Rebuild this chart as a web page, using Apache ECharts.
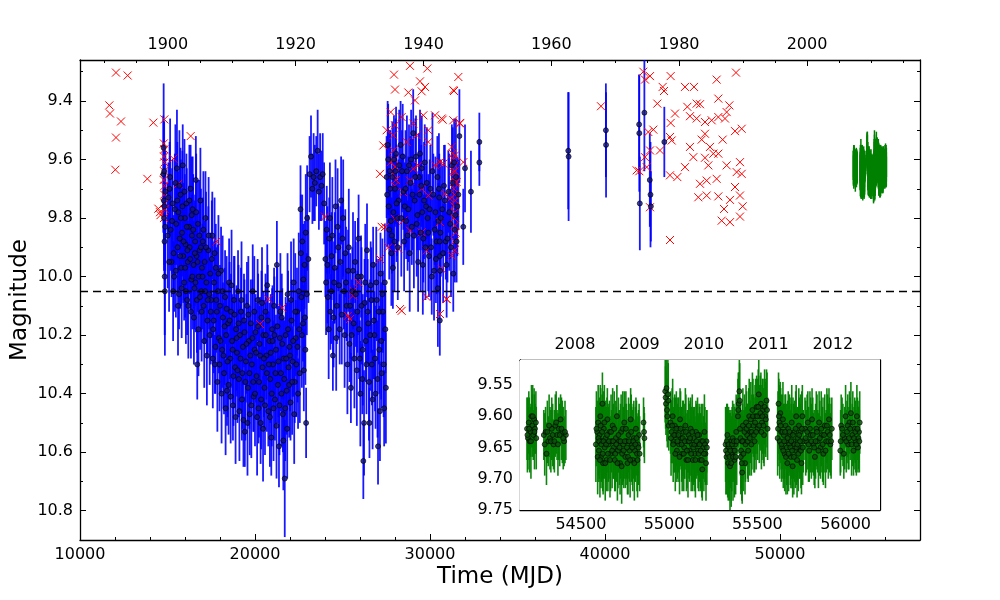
<!DOCTYPE html>
<html>
<head>
<meta charset="utf-8">
<script src="https://cdn.jsdelivr.net/npm/echarts@6.0.0/dist/echarts.min.js"></script>
<style>
html,body{margin:0;padding:0;background:#fff;}
#chart{width:1000px;height:600px;}
</style>
</head>
<body>
<div id="chart"></div>
<script>
// photographic light curve: [MJD, magnitude, error]
var blueObs = [
	[14760,9.65,0.20],[14780,9.56,0.22],[14790,9.74,0.15],[14800,9.80,0.18],[14810,9.64,0.17],[14820,9.76,0.20],[14830,9.88,0.16],[14840,10.00,0.20],[14850,10.05,0.22],[14870,9.83,0.15],[14880,9.71,0.14],
	[15050,9.73,0.12],[15120,9.70,0.16],[15180,9.84,0.14],[15230,9.95,0.12],[15290,9.75,0.15],[15350,9.92,0.13],[15380,10.00,0.12],
	[15450,9.68,0.20],[15500,9.82,0.14],[15540,9.63,0.20],[15580,9.90,0.15],[15620,9.78,0.14],[15660,10.06,0.12],[15700,9.87,0.17],[15740,9.72,0.16],[15780,9.97,0.13],
	[15830,9.85,0.15],[15870,9.62,0.14],[15900,9.93,0.16],[15950,10.02,0.13],[15990,9.80,0.15],[16030,9.89,0.14],[16080,9.75,0.17],[16120,10.08,0.12],[16160,9.95,0.14],
	[16230,9.83,0.14],[16270,9.90,0.16],[16320,9.70,0.15],[16360,10.01,0.12],[16400,9.86,0.14],[16440,9.77,0.18],[16490,9.96,0.15],[16540,10.04,0.14],[16580,9.88,0.16],
	[16620,9.67,0.15],[16660,9.93,0.12],[16700,10.30,0.12],[16740,9.82,0.15],[16790,10.00,0.13],[16840,9.91,0.16],[16880,9.74,0.18],[16930,10.05,0.14],[16970,9.97,0.12],
	[17020,9.88,0.15],[17070,10.10,0.13],[17120,9.95,0.14],[17170,9.80,0.16],[17220,10.02,0.12],[17280,10.15,0.13],[17330,9.91,0.15],[17380,10.06,0.12],[17440,9.99,0.14],
	[17500,10.08,0.13],[17560,9.86,0.15],[17610,10.18,0.12],[17660,10.02,0.14],[17710,10.30,0.10],[17760,9.97,0.15],[17820,10.12,0.13],[17880,10.05,0.16],[17940,10.21,0.12],
	[18000,10.10,0.14],[18060,9.98,0.15],[18120,10.25,0.13],[18170,10.14,0.12],[18230,10.33,0.14],[18290,10.07,0.16],[18350,10.20,0.13],[18400,10.39,0.12],[18460,10.16,0.14],
	[18520,10.02,0.15],[18580,10.28,0.14],[18630,10.12,0.13],[18690,10.22,0.16],[18740,10.44,0.12],[18800,10.08,0.15],[18860,10.31,0.14],[18920,10.18,0.12],[18970,10.26,0.15],
	[19030,10.05,0.14],[19080,10.35,0.13],[19140,10.20,0.12],[19200,10.12,0.15],[19250,10.42,0.14],[19310,10.24,0.13],[19370,10.15,0.16],[19420,10.53,0.12],[19480,10.29,0.14],
	[19540,10.10,0.15],[19600,10.38,0.13],[19650,10.22,0.12],[19700,10.47,0.14],[19760,10.16,0.15],[19820,10.30,0.13],[19870,10.05,0.16],[19930,10.41,0.12],[19980,10.25,0.14],
	[20030,10.19,0.13],[20090,10.34,0.15],[20150,10.08,0.14],[20200,10.45,0.12],[20260,10.23,0.13],[20320,10.50,0.14],[20370,10.14,0.16],[20430,10.31,0.13],[20480,10.20,0.15],
	[20540,10.38,0.14],[20600,10.12,0.13],[20650,10.27,0.15],[20700,10.03,0.14],[20760,10.46,0.12],[20820,10.22,0.13],[20870,10.35,0.15],[20930,10.55,0.13],[20980,10.18,0.14],
	[21030,10.30,0.15],[21090,10.10,0.13],[21140,10.42,0.14],[21200,10.25,0.12],[21250,9.96,0.15],[21310,10.37,0.13],[21370,10.58,0.14],[21420,10.21,0.16],[21480,10.33,0.13],
	[21530,10.14,0.15],[21590,10.47,0.13],[21640,10.28,0.14],[21700,10.69,0.20],[21750,10.20,0.13],[21810,10.39,0.15],[21860,10.06,0.14],[21920,10.31,0.13],[21970,10.24,0.15],
	[22030,10.43,0.13],[22090,10.15,0.14],[22150,10.29,0.12],[22210,10.02,0.15],[22270,10.36,0.14],[22330,10.21,0.13],[22400,10.12,0.15],[22460,10.40,0.12],[22530,10.18,0.14],
	[22600,9.77,0.15],[22650,10.07,0.14],[22700,9.88,0.16],[22740,10.16,0.13],[22790,10.32,0.14],[22830,9.96,0.15],[22880,10.25,0.12],[22920,10.50,0.12],[22960,10.06,0.14],
	[23050,9.94,0.15],[23120,9.65,0.13],[23200,9.59,0.14],[23280,9.70,0.12],[23350,9.66,0.15],[23420,9.68,0.13],[23500,9.64,0.12],[23580,9.57,0.14],[23650,9.71,0.13],[23720,9.66,0.15],[23800,9.69,0.12],[23870,9.65,0.14],
	[23950,9.75,0.14],[24020,9.94,0.13],[24100,9.84,0.15],[24170,10.07,0.12],[24240,9.87,0.14],[24310,10.12,0.13],[24380,9.93,0.15],[24450,10.27,0.12],[24520,10.02,0.14],[24600,9.76,0.16],[24680,10.10,0.13],[24760,9.90,0.15],[24840,10.18,0.12],
	[24920,9.74,0.15],[25000,9.87,0.14],[25080,10.05,0.13],[25160,9.92,0.15],[25240,10.10,0.12],[25320,9.98,0.14],[25400,10.23,0.13],[25480,10.38,0.12],[25560,10.05,0.15],[25640,10.16,0.13],[25720,9.95,0.14],
	[25850,10.12,0.14],[25920,9.87,0.15],[25990,10.28,0.13],[26060,10.00,0.14],[26130,10.35,0.12],[26190,10.63,0.13],[26260,10.09,0.15],[26330,10.22,0.14],[26400,9.91,0.16],[26470,10.16,0.13],[26540,10.50,0.12],[26610,10.03,0.15],
	[26680,10.30,0.14],[26750,9.96,0.13],[26820,10.20,0.15],[26890,10.40,0.12],[26960,10.08,0.14],[27030,10.58,0.13],[27100,10.25,0.15],[27170,9.99,0.14],[27240,10.33,0.12],[27310,10.12,0.14],[27380,10.45,0.13],[27450,10.18,0.15],
	[27520,9.66,0.14],[27580,9.55,0.15],[27640,9.76,0.13],[27700,9.64,0.14],[27760,9.81,0.12],[27820,9.86,0.13],[27880,9.97,0.14],[27940,9.60,0.15],[28000,9.70,0.13],[28060,9.58,0.16],[28120,9.80,0.13],[28200,9.74,0.14],
	[28320,9.55,0.15],[28400,9.64,0.14],[28480,9.71,0.13],[28560,9.76,0.15],[28640,9.81,0.13],[28720,9.86,0.12],[28800,9.62,0.14],[28880,9.68,0.16],[28960,9.83,0.13],[29040,9.51,0.15],[29120,9.74,0.13],[29200,9.59,0.14],[29280,9.79,0.12],[29360,9.66,0.15],
	[29430,9.58,0.15],[29500,9.69,0.14],[29560,9.78,0.13],[29620,9.87,0.15],[29700,9.61,0.13],[29780,9.76,0.14],[29860,9.80,0.12],[29940,9.93,0.14],[30020,9.70,0.15],[30100,10.00,0.13],[30190,9.72,0.14],[30270,9.84,0.12],
	[30340,9.94,0.15],[30420,9.66,0.14],[30480,9.81,0.13],[30530,9.73,0.15],[30560,10.15,0.12],[30570,9.93,0.13],[30580,9.98,0.14],[30590,9.85,0.12],
	[30700,9.77,0.15],[30800,9.69,0.14],[30900,9.88,0.13],[31000,9.87,0.15],[31050,9.71,0.14],[31150,9.82,0.12],[31250,9.62,0.14],[31330,9.99,0.13],[31380,9.61,0.15],[31450,9.79,0.13],[31520,9.88,0.14],[31620,9.72,0.12],
	[31680,9.52,0.16],[31900,9.83,0.13],[32000,9.63,0.15],[32340,9.71,0.14],[32820,9.54,0.10],[32820,9.61,0.08],
	[37900,9.57,0.20],[37920,9.59,0.22],[40050,9.50,0.16],[40060,9.55,0.18],[41950,9.48,0.17],[41960,9.51,0.20],[41990,9.75,0.16],
	[42250,9.44,0.20],[42560,9.67,0.16],[42600,9.72,0.18],[42620,9.76,0.12],[43390,9.54,0.12]
];

// further plates in the crowded years: [MJD, magnitude, error]
var blueObsB = [
	[15010,9.86,0.18],[15090,9.95,0.17],[15150,9.66,0.20],[15260,9.81,0.18],[15320,10.05,0.17],[15420,9.77,0.19],[15480,9.98,0.16],[15560,9.74,0.20],[15600,10.10,0.17],[15680,9.69,0.19],[15720,9.93,0.18],[15760,9.80,0.20],[15810,10.04,0.17],[15850,9.76,0.19],[15920,9.88,0.20],[15970,9.71,0.18],
	[16010,9.97,0.17],[16050,10.05,0.18],[16100,9.83,0.20],[16140,9.91,0.16],[16190,10.10,0.18],[16250,9.74,0.19],[16300,9.94,0.17],[16340,10.12,0.16],[16380,9.79,0.20],[16420,10.00,0.18],[16470,9.84,0.19],[16510,10.14,0.16],[16560,9.92,0.18],[16600,10.02,0.17],[16640,9.78,0.20],[16680,10.08,0.18],[16720,9.95,0.17],[16770,10.18,0.16],[16820,9.86,0.19],[16860,10.07,0.18],[16910,9.90,0.20],[16950,10.12,0.17],
	[17000,10.00,0.18],[17050,9.84,0.20],[17100,10.22,0.16],[17150,10.05,0.18],[17200,9.90,0.19],[17250,10.27,0.17],[17300,10.08,0.18],[17350,9.86,0.20],[17410,10.20,0.17],[17470,10.12,0.18],[17530,9.94,0.20],[17590,10.28,0.17],[17640,10.15,0.18],[17690,9.92,0.19],[17740,10.24,0.16],[17790,10.08,0.18],[17850,10.36,0.17],[17910,9.99,0.20],[17970,10.30,0.16],
	[18030,10.22,0.18],[18090,10.40,0.17],[18150,10.05,0.19],[18200,10.27,0.18],[18260,10.17,0.20],[18320,10.45,0.16],[18380,10.11,0.18],[18430,10.29,0.19],[18490,10.37,0.17],[18550,10.15,0.20],[18610,10.41,0.16],[18660,10.03,0.19],[18720,10.25,0.18],[18770,10.34,0.17],[18830,10.13,0.20],[18890,10.48,0.16],[18950,10.21,0.18],
	[19000,10.32,0.18],[19060,10.16,0.20],[19110,10.46,0.17],[19170,10.28,0.18],[19230,10.08,0.20],[19280,10.33,0.19],[19340,10.49,0.16],[19400,10.19,0.18],[19450,10.36,0.20],[19510,10.23,0.17],[19570,10.50,0.18],[19620,10.13,0.20],[19680,10.33,0.19],[19730,10.27,0.17],[19790,10.44,0.18],[19850,10.21,0.20],[19900,10.36,0.17],[19960,10.12,0.19],
	[20000,10.40,0.18],[20060,10.26,0.17],[20120,10.48,0.20],[20180,10.17,0.18],[20230,10.36,0.19],[20290,10.27,0.20],[20350,10.42,0.17],[20400,10.09,0.19],[20460,10.52,0.18],[20510,10.28,0.20],[20570,10.44,0.17],[20620,10.20,0.18],[20680,10.33,0.20],[20730,10.15,0.19],[20790,10.30,0.18],[20850,10.48,0.17],[20900,10.26,0.20],[20960,10.40,0.18],
	[21000,10.22,0.19],[21060,10.45,0.18],[21110,10.20,0.20],[21170,10.33,0.17],[21230,10.51,0.18],[21280,10.17,0.20],[21340,10.29,0.19],[21400,10.44,0.17],[21450,10.12,0.20],[21510,10.40,0.18],[21560,10.23,0.19],[21620,10.56,0.17],[21670,10.35,0.20],[21730,10.45,0.18],[21780,10.28,0.19],[21840,10.52,0.17],[21890,10.18,0.20],[21950,10.37,0.18],
	[22000,10.27,0.19],[22060,10.08,0.20],[22120,10.36,0.18],[22180,10.22,0.19],[22240,10.47,0.17],[22300,10.12,0.20],[22360,10.30,0.18],[22430,10.24,0.19],[22500,10.05,0.20],[22560,10.33,0.17],[22620,9.92,0.20],[22680,10.20,0.18],[22760,10.01,0.19],[22850,10.14,0.17],[22900,9.85,0.20],[22980,9.80,0.18],
	[24060,10.02,0.18],[24140,9.96,0.20],[24210,10.18,0.17],[24280,9.80,0.19],[24350,10.05,0.18],[24420,9.86,0.20],[24490,10.14,0.17],[24560,9.97,0.19],[24640,10.21,0.18],[24720,9.83,0.20],[24800,10.03,0.18],[24880,9.95,0.19],
	[24960,10.13,0.17],[25040,9.80,0.20],[25120,10.20,0.18],[25200,10.02,0.19],[25280,10.30,0.17],[25360,9.90,0.20],[25440,10.10,0.18],[25520,10.20,0.19],[25600,9.98,0.20],[25680,10.28,0.17],[25760,10.06,0.18],[25820,10.32,0.19],
	[25880,10.00,0.20],[25950,10.18,0.17],[26020,10.40,0.18],[26090,10.10,0.20],[26160,10.25,0.19],[26230,10.50,0.18],[26300,10.02,0.20],[26370,10.30,0.17],[26440,10.12,0.18],[26510,10.36,0.20],[26580,10.20,0.19],[26650,10.08,0.18],
	[26720,10.42,0.17],[26790,10.15,0.20],[26860,10.28,0.18],[26930,10.02,0.19],[27000,10.35,0.20],[27070,10.12,0.18],[27140,10.46,0.17],[27210,10.22,0.20],[27280,10.06,0.19],[27350,10.30,0.18],[27420,10.02,0.20],[27480,10.38,0.19],
	[27550,9.72,0.18],[27610,9.60,0.19],[27670,9.84,0.17],[27730,9.70,0.20],[27790,9.92,0.18],[27850,9.66,0.19],[27910,9.78,0.20],[27970,9.88,0.17],[28030,9.64,0.18],[28090,9.75,0.20],[28160,9.90,0.18],[28240,9.62,0.19],
	[28360,9.80,0.20],[28440,9.59,0.18],[28520,9.88,0.17],[28600,9.70,0.20],[28680,9.64,0.19],[28760,9.77,0.18],[28840,9.92,0.20],[28920,9.60,0.17],[29000,9.72,0.19],[29080,9.86,0.18],[29160,9.66,0.20],[29240,9.82,0.18],
	[29320,9.95,0.17],[29400,9.72,0.19],[29470,9.85,0.20],[29530,9.63,0.18],[29590,9.96,0.17],[29660,9.74,0.20],[29740,9.90,0.18],[29820,9.68,0.19],[29900,9.85,0.20],[29980,9.77,0.17],[30060,9.90,0.18],[30140,9.64,0.20],
	[30230,9.98,0.17],[30310,9.78,0.19],[30380,9.88,0.18],[30450,10.04,0.20],[30510,9.70,0.19],[30550,9.88,0.18],[30620,9.80,0.20],[30750,9.92,0.17],[30850,9.74,0.19],[30950,9.96,0.18],[31100,9.78,0.20],[31200,9.90,0.17],
	[31300,9.68,0.19],[31420,9.84,0.18],[31480,9.66,0.20],[31560,9.76,0.17]
];

// visual estimates: [MJD, magnitude]
var redObs = [
	[11676,9.415],[11714,9.443],[12057,9.303],[12724,9.313],[12343,9.47],[12057,9.525],[12019,9.635],[13848,9.666],[14190,9.474],
	[14476,9.768],[14571,9.78],[14819,9.463],[14819,9.565],[14800,9.59],[14800,9.64],[14830,9.69],[14810,9.72],[14840,9.75],
	[14800,9.80],[14790,9.545],[14830,9.61],[14780,9.67],[14850,9.77],[14600,9.79],[15333,9.597],[15619,9.683],[16324,9.52],
	[17810,9.88],[20762,10.077],[21562,10.107],[20286,10.162],[24000,9.795],[25429,10.145],[25619,10.048],[25905,10.02],
	[25310,10.134],[25600,10.065],[27143,9.94],[27238,9.83],[27619,9.90],[28286,10.111],[29810,10.07],[30952,10.077],[30571,10.128],
	[27943,9.31],[28857,9.28],[29847,9.289],[31619,9.318],[28000,9.361],[29429,9.333],[29714,9.352],[28762,9.371],[29524,9.367],
	[31333,9.363],[29143,9.398],[27752,9.438],[28381,9.455],[29619,9.449],[30286,9.449],[30667,9.46],[31333,9.466],[31714,9.477],
	[27524,9.50],[28000,9.483],[29048,9.477],[27905,9.517],[29905,9.50],[29238,9.517],[28667,9.54],[29905,9.54],[31238,9.557],
	[27333,9.552],[27905,9.569],[27752,9.609],[27143,9.649],[29048,9.632],[29333,9.62],[30286,9.62],[30571,9.609],[31333,9.643],
	[31524,9.677],[31429,9.586],[31905,9.609],[28857,9.672],[28476,9.712],[29524,9.70],[29905,9.723],[30857,9.717],[31143,9.734],
	[27429,9.831],[28000,9.803],[28476,9.809],[28857,9.843],[29524,9.849],[30571,9.814],[31429,9.826],[28190,9.905],[29809,9.911],
	[30667,9.974],[31238,9.928],[30952,10.077],[28381,10.117],
	[31300,9.58],[31350,9.60],[31400,9.62],[31420,9.64],[31380,9.66],[31450,9.68],[31360,9.70],[31410,9.72],[31440,9.74],
	[31390,9.76],[31430,9.78],[31370,9.80],[31460,9.85],[31400,9.88],[31420,9.91],
	[27950,9.60],[28000,9.625],[27900,9.65],[28050,9.67],[27980,9.69],
	[31371,9.366],[30724,9.464],[31714,9.475],[30762,9.614],
	[39771,9.418],[42190,9.30],[42571,9.315],[42286,9.327],[43752,9.315],[43295,9.352],[43371,9.366],[42990,9.409],[44571,9.352],
	[45086,9.352],[46381,9.327],[47486,9.303],[44000,9.443],[43752,9.475],[42762,9.498],[42476,9.506],[43143,9.569],[42571,9.569],
	[42286,9.592],[41962,9.64],[42381,9.626],[42571,9.763],[43714,9.523],[43810,9.535],[43714,9.654],[44133,9.66],[43714,9.875],
	[44705,9.42],[45238,9.409],[45429,9.411],[44857,9.452],[45238,9.46],[45714,9.472],[46095,9.466],[46476,9.455],[46857,9.46],
	[46476,9.392],[47105,9.415],[46952,9.438],[47429,9.503],[47810,9.495],[45524,9.532],[45714,9.512],[44857,9.557],[45048,9.592],
	[44571,9.626],[45714,9.594],[46190,9.58],[46476,9.58],[46000,9.557],[46724,9.532],[45905,9.62],[46952,9.62],[47714,9.609],
	[47524,9.643],[47810,9.649],[45429,9.683],[45810,9.672],[46381,9.666],[47429,9.694],[45333,9.729],[45810,9.723],[46476,9.726],
	[47143,9.738],[47714,9.723],[47867,9.76],[46800,9.769],[46667,9.809],[47143,9.814],[47714,9.795],[41810,9.637]
];

// CCD monitoring 2007-2012: [MJD, magnitude, error]
var greenObs = [
	[54195,9.62,0.05],[54200,9.635,0.05],[54205,9.61,0.05],[54210,9.64,0.05],[54215,9.625,0.04],[54220,9.60,0.05],[54225,9.615,0.05],[54230,9.63,0.04],[54235,9.605,0.05],[54240,9.62,0.04],[54245,9.61,0.05],
	[54290,9.63,0.04],[54300,9.625,0.04],[54305,9.66,0.05],[54315,9.64,0.04],[54325,9.635,0.05],[54335,9.62,0.05],[54345,9.645,0.04],[54355,9.615,0.05],[54365,9.63,0.04],[54375,9.62,0.05],[54385,9.605,0.04],[54395,9.625,0.05],[54405,9.64,0.04],[54415,9.63,0.04],
	[54585,9.645,0.06],[54592,9.625,0.05],[54598,9.61,0.06],[54602,9.655,0.05],[54606,9.63,0.06],[54610,9.60,0.05],[54614,9.665,0.05],[54618,9.64,0.06],[54622,9.58,0.05],[54626,9.675,0.05],
	[54630,9.62,0.06],[54635,9.65,0.05],[54640,9.635,0.06],[54645,9.67,0.05],[54650,9.605,0.05],[54656,9.645,0.06],[54662,9.625,0.05],[54668,9.66,0.06],[54674,9.64,0.05],[54680,9.615,0.06],
	[54686,9.65,0.05],[54692,9.67,0.05],[54698,9.635,0.06],[54704,9.60,0.05],[54710,9.655,0.06],[54716,9.64,0.05],[54722,9.675,0.05],[54728,9.625,0.06],[54734,9.66,0.05],[54740,9.645,0.06],
	[54746,9.61,0.05],[54752,9.665,0.05],[54758,9.64,0.06],[54764,9.675,0.05],[54770,9.63,0.06],[54776,9.655,0.05],[54782,9.605,0.05],[54788,9.645,0.06],[54794,9.67,0.05],[54800,9.635,0.06],
	[54806,9.655,0.05],[54812,9.62,0.05],[54818,9.66,0.06],[54824,9.645,0.05],[54830,9.63,0.05],
	[54855,9.61,0.04],[54858,9.625,0.04],[54860,9.635,0.04],
	[54978,9.56,0.05],[54982,9.58,0.05],[54985,9.555,0.05],[54990,9.60,0.05],[54995,9.575,0.06],[54998,9.615,0.04],
	[55008,9.61,0.05],[55014,9.625,0.05],[55020,9.60,0.06],[55026,9.64,0.05],[55032,9.615,0.05],[55038,9.63,0.06],[55044,9.655,0.05],[55050,9.62,0.05],[55056,9.645,0.06],[55062,9.605,0.05],
	[55068,9.635,0.05],[55074,9.66,0.06],[55080,9.625,0.05],[55086,9.65,0.05],[55092,9.615,0.06],[55098,9.67,0.05],[55104,9.64,0.05],[55110,9.63,0.06],[55116,9.655,0.05],[55122,9.62,0.05],
	[55128,9.645,0.06],[55134,9.67,0.05],[55140,9.635,0.05],[55146,9.66,0.06],[55152,9.625,0.05],[55158,9.645,0.05],[55164,9.655,0.06],[55170,9.63,0.05],[55176,9.67,0.05],[55182,9.64,0.06],
	[55188,9.685,0.05],[55194,9.65,0.05],[55200,9.625,0.06],[55206,9.66,0.05],[55212,9.64,0.05],
	[55320,9.645,0.06],[55325,9.665,0.06],[55330,9.63,0.05],[55335,9.675,0.06],[55340,9.65,0.06],[55345,9.68,0.07],[55350,9.64,0.05],[55355,9.66,0.06],[55360,9.635,0.06],[55365,9.655,0.05],
	[55370,9.67,0.06],[55375,9.645,0.05],[55380,9.625,0.06],
	[55390,9.60,0.06],[55395,9.58,0.05],[55398,9.56,0.06],[55402,9.62,0.05],[55406,9.665,0.06],[55410,9.64,0.05],[55414,9.69,0.05],[55418,9.615,0.06],[55424,9.64,0.05],[55430,9.675,0.05],
	[55436,9.61,0.06],[55442,9.63,0.05],[55448,9.655,0.05],[55454,9.60,0.06],[55460,9.625,0.05],[55466,9.645,0.05],[55472,9.59,0.06],[55478,9.615,0.05],[55484,9.64,0.05],[55490,9.60,0.06],
	[55496,9.585,0.05],[55502,9.62,0.05],[55508,9.565,0.06],[55514,9.60,0.05],[55520,9.58,0.05],[55526,9.61,0.06],[55532,9.59,0.05],[55538,9.63,0.05],[55544,9.60,0.06],[55552,9.575,0.05],[55558,9.62,0.05],
	[55615,9.635,0.06],[55620,9.58,0.05],[55625,9.61,0.06],[55630,9.595,0.05],[55635,9.625,0.06],[55640,9.65,0.05],[55645,9.605,0.06],[55650,9.63,0.05],[55655,9.66,0.06],[55660,9.615,0.05],
	[55665,9.64,0.06],[55670,9.675,0.05],[55675,9.62,0.06],[55680,9.645,0.05],[55685,9.63,0.06],[55690,9.665,0.05],[55695,9.61,0.06],[55700,9.68,0.05],[55705,9.64,0.06],[55710,9.625,0.05],
	[55715,9.655,0.06],[55720,9.60,0.05],[55725,9.67,0.06],[55730,9.635,0.05],[55735,9.615,0.06],[55740,9.65,0.05],[55745,9.625,0.06],[55750,9.675,0.05],[55755,9.60,0.05],[55760,9.64,0.05],
	[55770,9.62,0.05],[55778,9.64,0.05],[55786,9.61,0.05],[55794,9.655,0.05],[55802,9.63,0.06],[55810,9.605,0.05],[55818,9.645,0.05],[55826,9.665,0.05],[55834,9.62,0.06],[55842,9.64,0.05],
	[55850,9.61,0.05],[55858,9.65,0.05],[55866,9.63,0.06],[55874,9.66,0.05],[55882,9.615,0.05],[55890,9.64,0.05],[55898,9.625,0.06],[55906,9.605,0.05],[55914,9.645,0.05],[55922,9.62,0.05],
	[55970,9.655,0.04],[55975,9.615,0.05],[55980,9.62,0.05],[55990,9.66,0.04],[55995,9.635,0.05],[56000,9.60,0.05],[56008,9.625,0.05],[56015,9.645,0.04],[56022,9.61,0.05],[56030,9.595,0.05],
	[56038,9.63,0.05],[56045,9.655,0.04],[56052,9.62,0.05],[56058,9.64,0.05],[56064,9.60,0.05],[56070,9.65,0.04],[56076,9.625,0.05],[56080,9.61,0.05]
];

// second exposure on most nights: [MJD, magnitude, error]
var greenObsB = [
	[54197,9.63,0.06],[54207,9.62,0.05],[54217,9.64,0.06],[54227,9.60,0.05],[54237,9.625,0.06],[54247,9.635,0.05],
	[54295,9.645,0.05],[54310,9.625,0.05],[54320,9.615,0.05],[54330,9.64,0.05],[54340,9.63,0.05],[54350,9.64,0.05],[54360,9.61,0.05],[54370,9.645,0.05],[54380,9.63,0.05],[54390,9.62,0.05],[54400,9.635,0.05],[54410,9.625,0.05],
	[54588,9.62,0.06],[54595,9.665,0.06],[54600,9.635,0.06],[54604,9.64,0.06],[54608,9.67,0.06],[54612,9.615,0.06],[54616,9.645,0.06],[54620,9.625,0.06],[54624,9.66,0.06],[54628,9.64,0.06],
	[54633,9.61,0.06],[54638,9.675,0.06],[54643,9.645,0.06],[54648,9.63,0.06],[54653,9.66,0.06],[54659,9.64,0.06],[54665,9.67,0.06],[54671,9.625,0.06],[54677,9.655,0.06],[54683,9.64,0.06],
	[54689,9.62,0.06],[54695,9.66,0.06],[54701,9.645,0.06],[54707,9.675,0.06],[54713,9.63,0.06],[54719,9.65,0.06],[54725,9.64,0.06],[54731,9.68,0.06],[54737,9.62,0.06],[54743,9.655,0.06],
	[54749,9.64,0.06],[54755,9.62,0.06],[54761,9.65,0.06],[54767,9.665,0.06],[54773,9.64,0.06],[54779,9.67,0.06],[54785,9.625,0.06],[54791,9.65,0.06],[54797,9.64,0.06],[54803,9.675,0.06],
	[54809,9.645,0.06],[54815,9.635,0.06],[54821,9.67,0.06],[54827,9.65,0.06],[54833,9.66,0.06],
	[54980,9.57,0.05],[54988,9.59,0.05],[54993,9.565,0.06],
	[55011,9.635,0.06],[55017,9.615,0.06],[55023,9.645,0.06],[55029,9.63,0.06],[55035,9.66,0.06],[55041,9.62,0.06],[55047,9.64,0.06],[55053,9.63,0.06],[55059,9.665,0.06],[55065,9.62,0.06],
	[55071,9.645,0.06],[55077,9.635,0.06],[55083,9.66,0.06],[55089,9.64,0.06],[55095,9.625,0.06],[55101,9.655,0.06],[55107,9.67,0.06],[55113,9.64,0.06],[55119,9.635,0.06],[55125,9.66,0.06],
	[55131,9.625,0.06],[55137,9.65,0.06],[55143,9.645,0.06],[55149,9.67,0.06],[55155,9.64,0.06],[55161,9.63,0.06],[55167,9.66,0.06],[55173,9.645,0.06],[55179,9.655,0.06],[55185,9.67,0.06],
	[55191,9.64,0.06],[55197,9.66,0.06],[55203,9.645,0.06],[55209,9.675,0.06],[55214,9.65,0.06],
	[55322,9.655,0.07],[55327,9.64,0.06],[55332,9.66,0.07],[55337,9.645,0.06],[55342,9.665,0.07],[55347,9.655,0.06],[55352,9.675,0.07],[55357,9.645,0.06],[55362,9.665,0.07],[55367,9.64,0.06],
	[55372,9.655,0.07],[55377,9.665,0.06],[55383,9.64,0.07],
	[55392,9.59,0.06],[55400,9.575,0.06],[55404,9.635,0.06],[55408,9.655,0.06],[55412,9.675,0.06],[55416,9.64,0.06],[55421,9.66,0.06],[55427,9.625,0.06],[55433,9.645,0.06],[55439,9.62,0.06],
	[55445,9.64,0.06],[55451,9.615,0.06],[55457,9.635,0.06],[55463,9.605,0.06],[55469,9.625,0.06],[55475,9.60,0.06],[55481,9.63,0.06],[55487,9.61,0.06],[55493,9.625,0.06],[55499,9.60,0.06],
	[55505,9.585,0.06],[55511,9.615,0.06],[55517,9.595,0.06],[55523,9.625,0.06],[55529,9.60,0.06],[55535,9.615,0.06],[55541,9.585,0.06],[55548,9.605,0.06],[55555,9.59,0.06],
	[55617,9.62,0.06],[55622,9.60,0.06],[55627,9.64,0.06],[55632,9.615,0.06],[55637,9.645,0.06],[55642,9.625,0.06],[55647,9.655,0.06],[55652,9.64,0.06],[55657,9.625,0.06],[55662,9.665,0.06],
	[55667,9.65,0.06],[55672,9.635,0.06],[55677,9.66,0.06],[55682,9.625,0.06],[55687,9.65,0.06],[55692,9.64,0.06],[55697,9.655,0.06],[55702,9.63,0.06],[55707,9.665,0.06],[55712,9.645,0.06],
	[55717,9.62,0.06],[55722,9.65,0.06],[55727,9.645,0.06],[55732,9.66,0.06],[55737,9.63,0.06],[55742,9.64,0.06],[55747,9.655,0.06],[55752,9.62,0.06],[55757,9.65,0.06],
	[55774,9.635,0.06],[55782,9.625,0.06],[55790,9.645,0.06],[55798,9.62,0.06],[55806,9.64,0.06],[55814,9.63,0.06],[55822,9.65,0.06],[55830,9.64,0.06],[55838,9.625,0.06],[55846,9.655,0.06],
	[55854,9.635,0.06],[55862,9.62,0.06],[55870,9.645,0.06],[55878,9.63,0.06],[55886,9.655,0.06],[55894,9.615,0.06],[55902,9.64,0.06],[55910,9.63,0.06],[55918,9.64,0.06],
	[55972,9.64,0.05],[55985,9.63,0.05],[56004,9.64,0.05],[56012,9.615,0.05],[56019,9.635,0.05],[56026,9.62,0.05],[56034,9.645,0.05],[56041,9.61,0.05],[56048,9.635,0.05],[56055,9.625,0.05],
	[56061,9.645,0.05],[56067,9.62,0.05],[56073,9.635,0.05],[56078,9.64,0.05]
];

// tick labels
var mjdLabels = [10000, 20000, 30000, 40000, 50000];
var mjdMinor = [12000, 14000, 16000, 18000, 22000, 24000, 26000, 28000, 32000, 34000, 36000, 38000, 42000, 44000, 46000, 48000, 52000, 54000, 56000];
var yearLabels = [1900, 1920, 1940, 1960, 1980, 2000];
var yearMinor = [1890, 1895, 1905, 1910, 1915, 1925, 1930, 1935, 1945, 1950, 1955, 1965, 1970, 1975, 1985, 1990, 1995, 2005, 2010, 2015];
var magLabels = [9.4, 9.6, 9.8, 10.0, 10.2, 10.4, 10.6, 10.8];
var magMinor = [9.3, 9.5, 9.7, 9.9, 10.1, 10.3, 10.5, 10.7];
var insetMjdLabels = [54500, 55000, 55500, 56000];
var insetMjdMinor = [54200, 54300, 54400, 54600, 54700, 54800, 54900, 55100, 55200, 55300, 55400, 55600, 55700, 55800, 55900, 56100];
var insetYearLabels = [2008, 2009, 2010, 2011, 2012];
var insetMagLabels = [9.55, 9.60, 9.65, 9.70, 9.75];
var insetMagMinor = [9.525, 9.575, 9.625, 9.675, 9.725];
var cutLevel = 10.05;

var FONT = 'DejaVu Sans';

// MJD -> decimal year
function toYear(mjd) {
	return 2000 + (mjd - 51544.5) / 365.25;
}

function axisBase(grid, min, max, pos, ticks, len, labels, fmt, line) {
	return {
		type: 'value',
		gridIndex: grid,
		min: min,
		max: max,
		position: pos,
		axisLine: { show: line, onZero: false, lineStyle: { color: '#000', width: 1.3 } },
		axisTick: { show: true, inside: true, length: len, customValues: ticks, lineStyle: { color: '#000', width: 1 } },
		axisLabel: {
			show: !!labels,
			customValues: labels || [],
			formatter: fmt,
			color: '#000',
			fontFamily: FONT,
			fontSize: 16,
			margin: 7
		},
		splitLine: { show: false }
	};
}

function yAxisBase(grid, min, max, pos, ticks, len, labels, fmt, line) {
	var a = axisBase(grid, min, max, pos, ticks, len, labels, fmt, line);
	a.inverse = true;
	return a;
}

function fmtInt(v) { return String(Math.round(v)); }
function fmt1(v) { return v.toFixed(1); }
function fmt2(v) { return v.toFixed(2); }

var mainMin = 10000, mainMax = 58000;
var insetMin = 54155, insetMax = 56195;

var xAxes = [
	axisBase(0, mainMin, mainMax, 'bottom', mjdLabels, 6, mjdLabels, fmtInt, true),
	axisBase(0, mainMin, mainMax, 'bottom', mjdMinor, 3, null, null, false),
	axisBase(0, toYear(mainMin), toYear(mainMax), 'top', yearLabels, 6, yearLabels, fmtInt, true),
	axisBase(0, toYear(mainMin), toYear(mainMax), 'top', yearMinor, 3, null, null, false),
	axisBase(1, insetMin, insetMax, 'bottom', insetMjdLabels, 6, insetMjdLabels, fmtInt, true),
	axisBase(1, insetMin, insetMax, 'bottom', insetMjdMinor, 3, null, null, false),
	axisBase(1, toYear(insetMin), toYear(insetMax), 'top', insetYearLabels, 5, insetYearLabels, fmtInt, true)
];

var yAxes = [
	yAxisBase(0, 9.26, 10.9, 'left', magLabels, 6, magLabels, fmt1, true),
	yAxisBase(0, 9.26, 10.9, 'left', magMinor, 3, null, null, false),
	yAxisBase(0, 9.26, 10.9, 'right', magLabels, 6, null, null, true),
	yAxisBase(0, 9.26, 10.9, 'right', magMinor, 3, null, null, false),
	yAxisBase(1, 9.51, 9.75, 'left', insetMagLabels, 6, insetMagLabels, fmt2, true),
	yAxisBase(1, 9.51, 9.75, 'left', insetMagMinor, 3, null, null, false),
	yAxisBase(1, 9.51, 9.75, 'right', insetMagLabels, 6, null, null, true),
	yAxisBase(1, 9.51, 9.75, 'right', insetMagMinor, 3, null, null, false)
];

// vertical error bar drawn through the axes
function errorBar(color, width, opacity) {
	return function(params, api) {
		var x = api.value(0), y = api.value(1), e = api.value(2);
		var a = api.coord([x, y - e]);
		var b = api.coord([x, y + e]);
		return {
			type: 'line',
			shape: { x1: a[0], y1: a[1], x2: b[0], y2: b[1] },
			style: { stroke: color, lineWidth: width, opacity: opacity }
		};
	};
}

// 'x' marker
function cross(params, api) {
	var p = api.coord([api.value(0), api.value(1)]);
	var s = 4;
	var st = { stroke: '#ff0000', lineWidth: 1 };
	return {
		type: 'group',
		children: [
			{ type: 'line', shape: { x1: p[0] - s, y1: p[1] - s, x2: p[0] + s, y2: p[1] + s }, style: st },
			{ type: 'line', shape: { x1: p[0] - s, y1: p[1] + s, x2: p[0] + s, y2: p[1] - s }, style: st }
		]
	};
}

var blueAll = blueObs.concat(blueObsB);
var greenAll = greenObs.concat(greenObsB);
var bluePts = blueAll.map(function(d) { return [d[0], d[1]]; });
var greenPts = greenAll.map(function(d) { return [d[0], d[1]]; });

var chart = echarts.init(document.getElementById('chart'), null, { renderer: 'canvas' });

chart.setOption({
	animation: false,
	backgroundColor: '#fff',
	grid: [
		{ left: 80, top: 60, width: 840, height: 480, containLabel: false },
		{ left: 520, top: 360, width: 360, height: 150, show: true, backgroundColor: '#fff', borderWidth: 0, z: 5 }
	],
	xAxis: xAxes,
	yAxis: yAxes,
	graphic: [
		{ type: 'text', x: 500, y: 577, style: { text: 'Time (MJD)', font: '23px "DejaVu Sans"', fill: '#000', textAlign: 'center', textVerticalAlign: 'middle' } },
		{ type: 'text', x: 20, y: 300, rotation: Math.PI / 2, style: { text: 'Magnitude', font: '23px "DejaVu Sans"', fill: '#000', textAlign: 'center', textVerticalAlign: 'middle' } }
	],
	series: [
		{
			type: 'custom', xAxisIndex: 0, yAxisIndex: 0, clip: true,
			renderItem: errorBar('#0000ff', 1.8, 0.9),
			encode: { x: 0, y: 1 },
			data: blueAll
		},
		{
			type: 'custom', xAxisIndex: 0, yAxisIndex: 0, clip: true,
			renderItem: cross,
			encode: { x: 0, y: 1 },
			data: redObs
		},
		{
			type: 'scatter', xAxisIndex: 0, yAxisIndex: 0,
			symbol: 'circle', symbolSize: 5,
			itemStyle: { color: '#14147a', borderColor: '#000', borderWidth: 0.8 },
			data: bluePts,
			markLine: {
				silent: true,
				symbol: 'none',
				label: { show: false },
				lineStyle: { color: '#000', width: 1.4, type: [8, 5] },
				data: [{ yAxis: cutLevel }]
			}
		},
		{
			type: 'custom', xAxisIndex: 0, yAxisIndex: 0, clip: true,
			renderItem: errorBar('#008000', 1.5, 1),
			encode: { x: 0, y: 1 },
			data: greenAll
		},
		{
			type: 'custom', xAxisIndex: 4, yAxisIndex: 4, clip: true, z: 6,
			renderItem: errorBar('#008000', 1.6, 0.95),
			encode: { x: 0, y: 1 },
			data: greenAll
		},
		{
			type: 'scatter', xAxisIndex: 4, yAxisIndex: 4, z: 7,
			symbol: 'circle', symbolSize: 5,
			itemStyle: { color: '#0b4f0b', borderColor: '#000', borderWidth: 0.8 },
			data: greenPts
		}
	]
});
</script>
</body>
</html>
